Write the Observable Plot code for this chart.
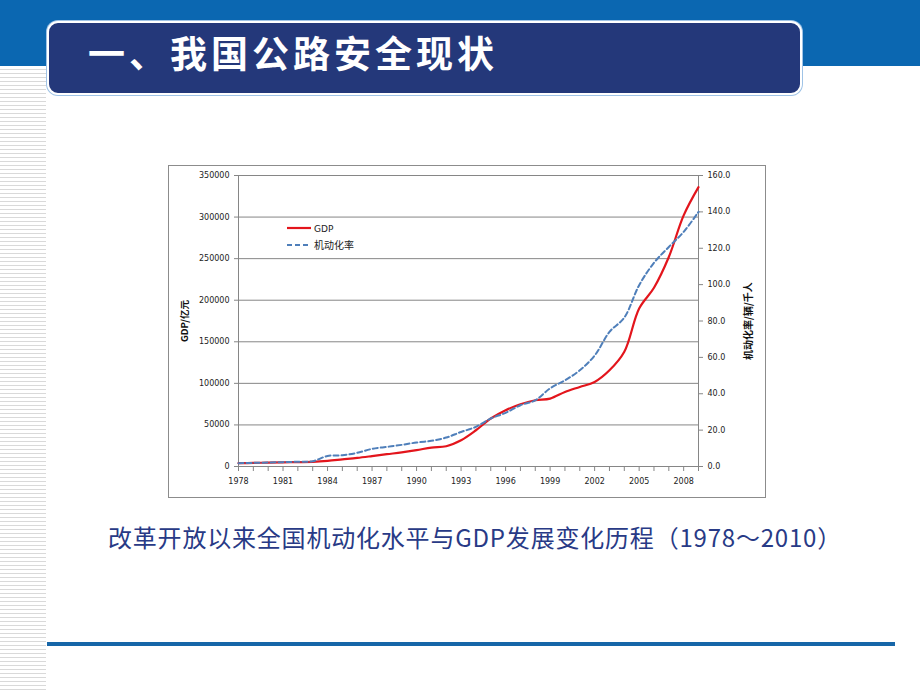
<!DOCTYPE html>
<html>
<head>
<meta charset="utf-8">
<script src="https://cdn.jsdelivr.net/npm/d3@7"></script>
<script src="https://cdn.jsdelivr.net/npm/@observablehq/plot@0.6"></script>
<style>
  html, body { margin: 0; padding: 0; background: #fff; }
  body { width: 920px; height: 690px; position: relative; overflow: hidden; font-family: "Noto Sans CJK SC", "Noto Sans", sans-serif; }
  .band { position: absolute; left: 0; top: 0; width: 920px; height: 66px; background: #0b67b1; }
  .stripes { position: absolute; left: 0; top: 66px; width: 46px; height: 624px;
    background: repeating-linear-gradient(to bottom, #ffffff 0px, #ffffff 3px, #d9d9d9 3px, #d9d9d9 4px); }
  .titlebox { position: absolute; left: 47px; top: 21px; width: 755px; height: 74px; box-sizing: border-box;
    background: #24387a; border: 2px solid #ffffff; border-radius: 11px; box-shadow: 0 0 0 1px #9fc3e6; }
  .title { position: absolute; left: 88px; top: 30px; height: 44px; line-height: 44px; color: #fff;
    font-family: "Noto Sans CJK SC", sans-serif; font-weight: 700; font-size: 37px; letter-spacing: 4px; white-space: nowrap; }
  .chart { position: absolute; left: 168px; top: 165px; border: 1px solid #8c8c8c; background: #fff; line-height: 0; }
  .caption { position: absolute; left: 108px; top: 522px; height: 30px; line-height: 30px; color: #283a86;
    font-family: "Noto Sans CJK SC", sans-serif; font-size: 24px; letter-spacing: 0.8px; white-space: nowrap; }
  .bottomline { position: absolute; left: 47px; top: 642px; width: 848px; height: 4px; background: #1666a8; }
</style>
</head>
<body>
<div class="band"></div>
<div class="stripes"></div>
<div class="titlebox"></div>
<div class="title">一、我国公路安全现状</div>
<div class="chart" id="chart"></div>
<svg class="legend" width="110" height="40" style="position:absolute;left:280px;top:218px">
  <line x1="7" x2="31" y1="10" y2="10" stroke="#e3151c" stroke-width="2.2"></line>
  <text x="34" y="13.5" font-family="DejaVu Sans" font-size="9" fill="#222">GDP</text>
  <line x1="7" x2="31" y1="27" y2="27" stroke="#4f7fba" stroke-width="2" stroke-dasharray="5,3"></line>
  <text x="34" y="31" font-family="Noto Sans CJK SC" font-size="10" fill="#222">机动化率</text>
</svg>
<div class="caption">改革开放以来全国机动化水平与GDP发展变化历程（1978～2010）</div>
<div class="bottomline"></div>
<script>
// ---- data ----
const years = [1978, 1979, 1980, 1981, 1982, 1983, 1984, 1985, 1986, 1987, 1988,
  1989, 1990, 1991, 1992, 1993, 1994, 1995, 1996, 1997, 1998, 1999, 2000,
  2001, 2002, 2003, 2004, 2005, 2006, 2007, 2008, 2009];
const gdp = [4000, 4300, 4700, 5000, 5300, 5600, 6700, 8500, 10300, 12500, 14800,
  17000, 19600, 22800, 24400, 31600, 43600, 57700, 67700, 74900, 79700, 81700, 89700,
  95700, 101700, 115700, 138000, 190000, 215000, 252000, 302000, 336000];
const motorRate = [1.8, 2.0, 2.2, 2.4, 2.6, 2.9, 5.8, 6.2, 7.5, 9.7, 10.8,
  11.9, 13.2, 14.1, 15.9, 19.0, 21.8, 26.4, 29.5, 33.7, 36.4, 43.0, 47.4,
  52.9, 61.0, 74.0, 81.9, 99.7, 112.0, 120.7, 129.0, 140.0];
const xTickLabels = ["1978", "1981", "1984", "1987", "1990", "1993", "1996", "1999", "2002", "2005", "2008"];
const leftTicks = [0, 50000, 100000, 150000, 200000, 250000, 300000, 350000];
const rightTickLabels = ["0.0", "20.0", "40.0", "60.0", "80.0", "100.0", "120.0", "140.0", "160.0"];
const leftLabel = "GDP/亿元";
const rightLabel = "机动化率/辆/千人";

const ratio = 350000 / 160;
const gdpRows = years.map((y, i) => ({year: y, v: gdp[i]}));
const rateRows = years.map((y, i) => ({year: y, v: motorRate[i] * ratio}));
const rightTicks = rightTickLabels.map(s => +s * ratio);
const xTicks = xTickLabels.map(Number);
const axisColor = "#868686";

const chart = Plot.plot({
  width: 596,
  height: 331,
  marginLeft: 69,
  marginRight: 67,
  marginTop: 9,
  marginBottom: 31,
  style: {fontFamily: "DejaVu Sans", fontSize: "8px", color: "#222", background: "#fff"},
  x: {type: "linear", domain: [years[0], years[years.length - 1]]},
  y: {domain: [0, 350000]},
  marks: [
    Plot.gridY(leftTicks, {stroke: axisColor, strokeOpacity: 1}),
    Plot.ruleX([years[0]], {stroke: axisColor}),
    Plot.ruleX([years[years.length - 1]], {stroke: axisColor}),
    Plot.ruleY([0], {stroke: axisColor}),
    Plot.axisY(leftTicks, {anchor: "left", tickSize: 4, tickPadding: 5, stroke: axisColor,
      tickFormat: d => String(d), label: null}),
    Plot.axisY(rightTicks, {anchor: "right", tickSize: 4, tickPadding: 5, stroke: axisColor,
      tickFormat: d => (d / ratio).toFixed(1), label: null}),
    Plot.axisX(years, {anchor: "bottom", tickSize: 5, stroke: axisColor, tickFormat: () => "", label: null}),
    Plot.axisX(xTicks, {anchor: "bottom", tickSize: 0, tickPadding: 12, tickFormat: d => String(d), label: null}),
    Plot.text([leftLabel], {frameAnchor: "left", textAnchor: "middle", dx: -54, rotate: -90, fontWeight: "bold", fontSize: 9.5,
      fontFamily: "Noto Sans CJK SC", fill: "#111"}),
    Plot.text([rightLabel], {frameAnchor: "right", textAnchor: "middle", dx: 50, rotate: -90, fontWeight: "bold", fontSize: 10,
      fontFamily: "Noto Sans CJK SC", fill: "#111"}),
    Plot.line(gdpRows, {x: "year", y: "v", stroke: "#e3151c", strokeWidth: 2.2, curve: "catmull-rom"}),
    Plot.line(rateRows, {x: "year", y: "v", stroke: "#4f7fba", strokeWidth: 2, strokeDasharray: "5,3", curve: "catmull-rom"})
  ]
});
document.getElementById("chart").appendChild(chart);
</script>
</body>
</html>
